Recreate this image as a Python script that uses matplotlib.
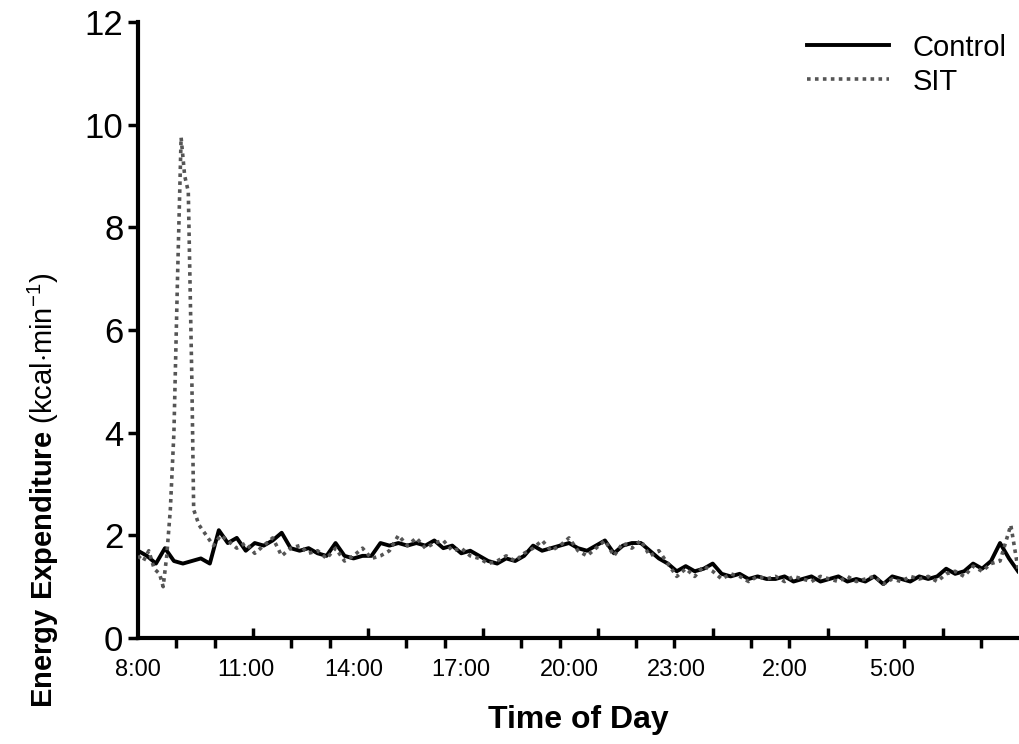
import numpy as np
import matplotlib.pyplot as plt

plt.rcParams['font.family'] = 'Liberation Sans'
plt.rcParams['mathtext.fontset'] = 'custom'
plt.rcParams['mathtext.rm'] = 'Liberation Sans'
plt.rcParams['mathtext.bf'] = 'Liberation Sans:bold'

# hours after 8:00, quarter-hour steps
control_x = np.arange(0, 24.51, 0.25)
control_y = [1.7, 1.6, 1.45, 1.75,
             1.5, 1.45, 1.5, 1.55,
             1.45, 2.1, 1.85, 1.95,
             1.7, 1.85, 1.8, 1.9,
             2.05, 1.75, 1.7, 1.75,
             1.65, 1.6, 1.85, 1.6,
             1.55, 1.6, 1.6, 1.85,
             1.8, 1.85, 1.8, 1.85,
             1.8, 1.9, 1.75, 1.8,
             1.65, 1.7, 1.6, 1.5,
             1.45, 1.55, 1.5, 1.6,
             1.8, 1.7, 1.75, 1.8,
             1.85, 1.75, 1.7, 1.8,
             1.9, 1.65, 1.8, 1.85,
             1.85, 1.7, 1.55, 1.45,
             1.3, 1.4, 1.3, 1.35,
             1.45, 1.25, 1.2, 1.25,
             1.15, 1.2, 1.15, 1.15,
             1.2, 1.1, 1.15, 1.2,
             1.1, 1.15, 1.2, 1.1,
             1.15, 1.1, 1.2, 1.05,
             1.2, 1.15, 1.1, 1.2,
             1.15, 1.2, 1.35, 1.25,
             1.3, 1.45, 1.35, 1.5,
             1.85, 1.55, 1.3]

sit_x = [0, 0.15, 0.3, 0.45, 0.6, 0.7, 0.8, 0.9, 1.0, 1.1, 1.2, 1.3, 1.4, 1.5,
         1.55, 1.7, 1.9, 2.1, 2.3, 2.5, 2.75, 3.0, 3.25, 3.5, 3.75, 4.0, 4.25,
         4.5, 4.75, 5.0, 5.25, 5.5, 5.75, 6.0, 6.25, 6.5, 6.75, 7.0, 7.25, 7.5,
         7.75, 8.0, 8.25, 8.5, 8.75, 9.0, 9.25, 9.5, 9.75, 10.0, 10.25, 10.5,
         10.75, 11.0, 11.25, 11.5, 11.75, 12.0, 12.25, 12.5, 12.75, 13.0, 13.25,
         13.5, 13.75, 14.0, 14.25, 14.5, 14.75, 15.0, 15.25, 15.5, 15.75, 16.0,
         16.25, 16.5, 16.75, 17.0, 17.25, 17.5, 17.75, 18.0, 18.25, 18.5, 18.75,
         19.0, 19.25, 19.5, 19.75, 20.0, 20.25, 20.5, 20.75, 21.0, 21.25, 21.5,
         21.75, 22.0, 22.25, 22.5, 22.75, 23.0, 23.25, 23.5, 23.75, 24.0, 24.3,
         24.5]
sit_y = [1.6, 1.5, 1.7, 1.35, 1.25, 1.0, 1.6, 2.5, 4.0, 7.0, 9.75, 9.0, 8.7,
         5.0, 2.5, 2.2, 2.0, 1.8, 2.0, 1.9, 1.75, 1.85, 1.65, 1.8, 1.95,
         1.6, 1.75, 1.8, 1.65, 1.7, 1.55, 1.75, 1.5, 1.6, 1.75, 1.55, 1.6,
         1.7, 2.0, 1.8, 1.95, 1.75, 1.85, 1.9, 1.7, 1.75, 1.6, 1.55, 1.45,
         1.5, 1.6, 1.5, 1.65, 1.75, 1.9, 1.7, 1.8, 1.95, 1.7, 1.6, 1.75, 1.9,
         1.6, 1.85, 1.75, 1.9, 1.6, 1.7, 1.45, 1.2, 1.35, 1.2, 1.4, 1.3, 1.15,
         1.25, 1.2, 1.1, 1.2, 1.15, 1.2, 1.1, 1.2, 1.15, 1.1, 1.2, 1.15, 1.1,
         1.2, 1.1, 1.15, 1.2, 1.05, 1.15, 1.1, 1.2, 1.15, 1.2, 1.1, 1.25,
         1.3, 1.2, 1.4, 1.3, 1.45, 1.5, 2.2, 1.35]

tick_labels = ['8:00', '11:00', '14:00', '17:00', '20:00', '23:00', '2:00', '5:00']
label_pos = [0, 3, 6, 9, 12, 15, 18, 21]

fig = plt.figure(figsize=(10.2, 7.44), dpi=100)
ax = fig.add_axes([138/1020, 106/744, 880/1020, 616/744])

ax.plot(control_x, control_y, color='black', lw=2.8, label='Control', zorder=3)
ax.plot(sit_x, sit_y, color='#555555', lw=2.6, ls=(0, (1, 1.2)), label='SIT', zorder=4)

ax.set_xlim(0, 24.5)
ax.set_ylim(0, 12)
ax.set_yticks(range(0, 13, 2))
ax.tick_params(axis='y', labelsize=25, width=2.5, length=7, direction='out')

# hourly ticks: every third one points up
step = 38.3 / 35.9
ax.set_xticks([k * step for k in range(1, 23) if k % 3 != 0])
ax.set_xticklabels([])
ax.tick_params(axis='x', width=2.5, length=7, direction='out')
ax.set_xticks([k * step for k in range(3, 23, 3)], minor=True)
ax.tick_params(axis='x', which='minor', width=2.5, length=7, direction='in')
for p, lab in zip(label_pos, tick_labels):
    ax.text(p, -0.4, lab, ha='center', va='top', fontsize=17)

for s in ['top', 'right']:
    ax.spines[s].set_visible(False)
for s in ['left', 'bottom']:
    ax.spines[s].set_linewidth(3)

ax.set_xlabel('Time of Day', fontsize=23, fontweight='bold', labelpad=38)
ax.set_ylabel(r'$\bf{Energy\ Expenditure}$ (kcal$\cdot$min$^{-1}$)', fontsize=21)
ax.yaxis.set_label_coords(-0.088, 0.24)

ax.legend(loc='upper right', fontsize=21, frameon=False, handlelength=2.8,
          borderaxespad=0.0, bbox_to_anchor=(1.0, 1.0), labelspacing=0.2)

fig.savefig('out.png', dpi=100)
